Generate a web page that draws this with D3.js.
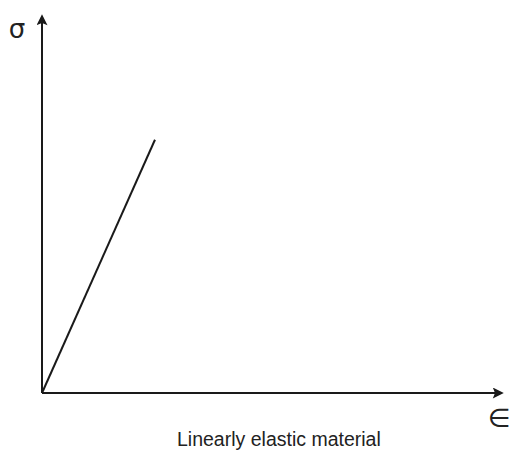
<!DOCTYPE html>
<html>
<head>
<meta charset="utf-8">
<script src="https://cdn.jsdelivr.net/npm/d3@7"></script>
<style>
  body { margin: 0; background: #fff; }
</style>
</head>
<body>
<script>
// strain / stress points of the linear elastic line (axis units 0..1)
var strain = [0, 0.244];
var stress = [0, 0.67];
var xLabel = "\u2208";
var yLabel = "\u03c3";
var caption = "Linearly elastic material";

var width = 514, height = 456;
var origin = {x: 42, y: 393};

var svg = d3.select("body").append("svg")
    .attr("width", width)
    .attr("height", height);

var x = d3.scaleLinear().domain([0, 1]).range([origin.x, 505]);
var y = d3.scaleLinear().domain([0, 1]).range([origin.y, 15]);

// arrow heads
var defs = svg.append("defs");
defs.append("marker")
    .attr("id", "arrow")
    .attr("viewBox", "0 0 10 10")
    .attr("refX", 2)
    .attr("refY", 5)
    .attr("markerUnits", "userSpaceOnUse")
    .attr("markerWidth", 15)
    .attr("markerHeight", 11)
    .attr("orient", "auto")
  .append("path")
    .attr("d", "M0,0 L10,5 L0,10 L2,5 Z")
    .attr("fill", "#1a1a1a");

// axes
svg.append("line")
    .attr("x1", x(0)).attr("y1", y(0))
    .attr("x2", x(1) - 10).attr("y2", y(0))
    .attr("stroke", "#1a1a1a")
    .attr("stroke-width", 2)
    .attr("marker-end", "url(#arrow)");

svg.append("line")
    .attr("x1", x(0)).attr("y1", y(0))
    .attr("x2", x(0)).attr("y2", y(1) + 8)
    .attr("stroke", "#1a1a1a")
    .attr("stroke-width", 2)
    .attr("marker-end", "url(#arrow)");

// the linear line
var line = d3.line()
    .x(function(d, i) { return x(strain[i]); })
    .y(function(d, i) { return y(stress[i]); });

svg.append("path")
    .datum(strain)
    .attr("d", line)
    .attr("fill", "none")
    .attr("stroke", "#1a1a1a")
    .attr("stroke-width", 2);

// labels
svg.append("text")
    .attr("x", 17)
    .attr("y", 38)
    .attr("text-anchor", "middle")
    .attr("font-family", "DejaVu Sans")
    .attr("font-size", "26px")
    .attr("fill", "#222")
    .text(yLabel);

svg.append("text")
    .attr("x", 488)
    .attr("y", 427)
    .attr("font-family", "DejaVu Sans")
    .attr("font-size", "26px")
    .attr("fill", "#222")
    .text(xLabel);

svg.append("text")
    .attr("x", 177)
    .attr("y", 446)
    .attr("font-family", "Liberation Sans")
    .attr("font-size", "19.5px")
    .attr("fill", "#222")
    .text(caption);
</script>
</body>
</html>
